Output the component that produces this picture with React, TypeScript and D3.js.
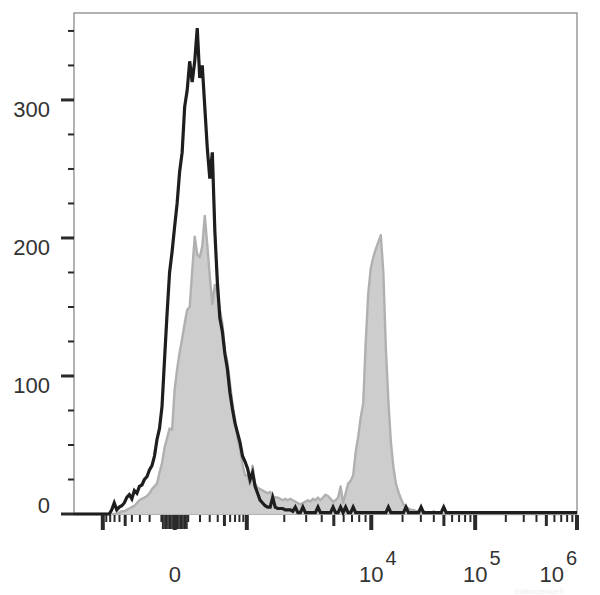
import React from 'react';
import * as d3 from 'd3';

// ---- data (histogram counts per display channel, 0..200) ----
const CHANNELS = 200;

const BLACK_COUNTS = [
  0, 0, 0, 0, 0, 0, 0, 0, 0, 0,
  0, 0, 0, 0, 0, 3, 8, 3, 5, 6,
  8, 12, 14, 11, 17, 15, 20, 21, 25, 27,
  32, 35, 42, 54, 62, 78, 112, 145, 175, 190,
  208, 225, 248, 262, 295, 307, 328, 313, 328, 352,
  316, 325, 295, 265, 243, 262, 205, 168, 142, 132,
  116, 105, 88, 76, 66, 59, 52, 42, 38, 33,
  25, 30, 20, 15, 10, 8, 6, 5, 5, 12,
  5, 4, 4, 4, 3, 3, 3, 2, 5, 1,
  1, 5, 1, 1, 1, 1, 1, 5, 1, 1,
  1, 1, 1, 5, 1, 1, 5, 1, 5, 1,
  1, 5, 1, 1, 1, 1, 1, 1, 1, 1,
  1, 1, 1, 1, 1, 5, 1, 1, 1, 1,
  1, 1, 5, 1, 1, 1, 1, 1, 5, 1,
  1, 1, 1, 1, 1, 1, 1, 5, 1, 1,
  1, 1, 1, 1, 1, 1, 1, 1, 1, 1,
  1, 1, 1, 1, 1, 1, 1, 1, 1, 1,
  1, 1, 1, 1, 1, 1, 1, 1, 1, 1,
  1, 1, 1, 1, 1, 1, 1, 1, 1, 1,
  1, 1, 1, 1, 1, 1, 1, 1, 1, 1,
  1,
];

const GRAY_COUNTS = [
  0, 0, 0, 0, 0, 0, 0, 0, 0, 0,
  0, 0, 0, 0, 0, 0, 0, 0, 1, 2,
  2, 3, 4, 5, 6, 8, 10, 11, 12, 13,
  15, 18, 20, 22, 30, 37, 48, 55, 62, 61,
  90, 105, 117, 127, 138, 148, 150, 176, 201, 188,
  186, 194, 216, 195, 172, 152, 166, 160, 148, 138,
  118, 110, 95, 80, 68, 55, 47, 36, 28, 28,
  21, 35, 22, 19, 18, 17, 16, 15, 16, 13,
  12, 12, 11, 10, 11, 10, 11, 10, 9, 8,
  7, 8, 9, 10, 9, 11, 10, 12, 10, 12,
  14, 13, 11, 9, 10, 12, 20, 8, 15, 22,
  24, 28, 45, 56, 70, 80, 125, 160, 178, 186,
  192, 197, 202, 175, 120, 82, 52, 34, 22, 16,
  11, 7, 5, 4, 3, 3, 2, 2, 1, 2,
  1, 1, 1, 2, 1, 1, 0, 0, 0, 0,
  0, 0, 0, 0, 0, 0, 0, 0, 0, 0,
  0, 0, 0, 0, 0, 0, 0, 0, 0, 0,
  0, 0, 0, 0, 0, 0, 0, 0, 0, 0,
  0, 0, 0, 0, 0, 0, 0, 0, 0, 0,
  0, 0, 0, 0, 0, 0, 0, 0, 0, 0,
  0,
];

const Y_MAJOR = [0, 100, 200, 300];
const Y_MINOR = [25, 50, 75, 125, 150, 175, 225, 250, 275, 325, 350];

const X_MAJOR = [-1000, 0, 1000, 10000, 100000, 1000000];
const X_MEDIUM = [-500, 500, 5000, 50000, 500000];
const X_MINOR = [
  -900, -800, -700, -600, -400, -300, -200, -100,
  100, 200, 300, 400, 600, 700, 800, 900,
  2000, 3000, 4000, 6000, 7000, 8000, 9000,
  20000, 30000, 40000, 60000, 70000, 80000, 90000,
  200000, 300000, 400000, 600000, 700000, 800000, 900000,
];
const X_NEAR_ZERO = [-90, -80, -70, -60, -50, -40, -30, -20, -10, 10, 20, 30, 40, 50, 60, 70, 80, 90];

const X_LABELS = [
  { value: 0, base: '0', exp: '' },
  { value: 10000, base: '10', exp: '4' },
  { value: 100000, base: '10', exp: '5' },
  { value: 1000000, base: '10', exp: '6' },
];

// ---- biexponential-style display transform (display units ~ decades) ----
function biex(v: number): number {
  const a = Math.abs(v);
  const s = v < 0 ? -1 : 1;
  if (a <= 1000) return s * 0.70 * Math.asinh(a / 250) / Math.asinh(4);
  if (v < 0) return -0.70 - 1.21 * Math.log10(a / 1000);
  if (a <= 1e4) return 0.70 + 1.21 * Math.log10(a / 1000);
  if (a <= 1e5) return 1.91 + 1.01 * Math.log10(a / 1e4);
  return 2.92 + 0.99 * Math.log10(a / 1e5);
}

const W = 600;
const H = 595;
const L = 74, R = 577, T = 13, B = 514;
const D_MIN = -0.98, D_MAX = 3.91;
const Y_MAX = 363;

const FONT = '"Liberation Sans", Arial, Helvetica, sans-serif';
const TEXT = '#333';
const BASE_FS = 22;
const SUP_FS = 20;

export default function App() {
  const xScale = d3.scaleLinear().domain([D_MIN, D_MAX]).range([L, R]);
  const chScale = d3.scaleLinear().domain([0, CHANNELS]).range([D_MIN, D_MAX]);
  const yScale = d3.scaleLinear().domain([0, Y_MAX]).range([B, T]);
  const xc = (c: number) => xScale(chScale(c));
  const xv = (v: number) => xScale(biex(v));

  const grayArea = d3.area<number>()
    .x((_, i) => xc(i))
    .y0(yScale(0))
    .y1((d) => yScale(d))(GRAY_COUNTS) || '';
  const grayLine = d3.line<number>()
    .x((_, i) => xc(i))
    .y((d) => yScale(d))(GRAY_COUNTS) || '';
  const blackLine = d3.line<number>()
    .x((_, i) => xc(i))
    .y((d) => yScale(d))(BLACK_COUNTS) || '';

  return (
    <svg width={W} height={H} viewBox={`0 0 ${W} ${H}`}
      style={{ position: 'absolute', left: 0, top: 0, background: '#fff' }}>
      <rect x={0} y={0} width={W} height={H} fill="#fff" />

      {/* frame */}
      <rect x={L} y={T} width={R - L} height={B - T} fill="none" stroke="#808080" strokeWidth={1.2} />

      {/* histograms */}
      <path d={grayArea} fill="#cdcdcd" stroke="none" />
      <path d={grayLine} fill="none" stroke="#b0b0b0" strokeWidth={2.4} strokeLinejoin="round" />
      <path d={blackLine} fill="none" stroke="#1e1e1e" strokeWidth={3.2} strokeLinejoin="miter" />

      {/* y ticks */}
      {Y_MAJOR.map((v) => (
        <line key={`ym${v}`} x1={61} x2={L} y1={yScale(v)} y2={yScale(v)} stroke="#2a2a2a" strokeWidth={3} />
      ))}
      {Y_MINOR.map((v) => (
        <line key={`yn${v}`} x1={68} x2={L} y1={yScale(v)} y2={yScale(v)} stroke="#2a2a2a" strokeWidth={2} />
      ))}
      {Y_MAJOR.map((v) => (
        <text key={`yl${v}`} x={50} y={v === 0 ? yScale(v) - 1 : yScale(v) + 17}
          textAnchor="end" fontFamily={FONT} fontSize={BASE_FS} fill={TEXT}>{v}</text>
      ))}

      {/* x ticks */}
      {X_NEAR_ZERO.map((v) => (
        <line key={`xz${v}`} x1={xv(v)} x2={xv(v)} y1={B + 1} y2={B + 15} stroke="#2a2a2a" strokeWidth={1.6} />
      ))}
      {X_MINOR.map((v) => (
        <line key={`xn${v}`} x1={xv(v)} x2={xv(v)} y1={B + 1} y2={B + 8} stroke="#2a2a2a" strokeWidth={2} />
      ))}
      {X_MEDIUM.map((v) => (
        <line key={`xd${v}`} x1={xv(v)} x2={xv(v)} y1={B + 1} y2={B + 12} stroke="#2a2a2a" strokeWidth={3} />
      ))}
      {X_MAJOR.map((v) => (
        <line key={`xm${v}`} x1={xv(v)} x2={xv(v)} y1={B + 1} y2={B + 16} stroke="#2a2a2a" strokeWidth={4} />
      ))}

      {/* watermark (faint) */}
      <text x={515} y={594} fontFamily={FONT} fontSize={8} fill="#ececec">Elabscience®</text>

      {/* x labels */}
      {X_LABELS.map((lb) => {
        let cx = xv(lb.value);
        const half = lb.base.length * 0.556 * BASE_FS / 2;
        const supW = lb.exp ? 0.556 * SUP_FS : 0;
        const gap = 2;
        const over = cx + half + gap + supW - R;
        if (over > 0) cx -= over;
        return (
          <g key={`xl${lb.value}`}>
            <text x={cx} y={582} textAnchor="middle" fontFamily={FONT} fontSize={BASE_FS} fill={TEXT}>{lb.base}</text>
            {lb.exp && (
              <text x={cx + half + gap} y={565} fontFamily={FONT} fontSize={SUP_FS} fill={TEXT}>{lb.exp}</text>
            )}
          </g>
        );
      })}
    </svg>
  );
}
